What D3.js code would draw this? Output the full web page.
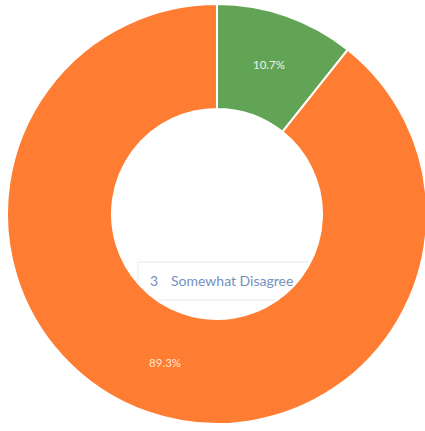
<!DOCTYPE html>
<html><head><meta charset="utf-8">
<script src="https://cdn.jsdelivr.net/npm/d3@7"></script>
<style>html,body{margin:0;padding:0;background:#fff;overflow:hidden}</style>
</head><body>
<svg id="c" width="425" height="431"></svg>
<script>
const categories = ["3 Somewhat Disagree", "Other"];
const values = [10.7, 89.3];
const labels = ["10.7%", "89.3%"];
const colors = ["#62a455", "#fe7d33"];
const tooltipIndex = "3";
const tooltipText = "Somewhat Disagree";

const svg = d3.select("#c");
const cx = 217, cy = 214, rOuter = 210, rInner = 105;

// tooltip box under donut
const tip = svg.append("g");
tip.append("rect").attr("x", 138).attr("y", 262).attr("width", 230).attr("height", 38)
  .attr("fill", "#fff").attr("stroke", "#e6e9ee").attr("stroke-width", 1);

const g = svg.append("g").attr("transform", `translate(${cx},${cy})`);
const pie = d3.pie().sort(null).value(d => d)(values);
const arc = d3.arc().innerRadius(rInner).outerRadius(rOuter);
const labelArc = d3.arc().innerRadius((rInner + rOuter) / 2).outerRadius((rInner + rOuter) / 2);

g.selectAll("path").data(pie).join("path")
  .attr("d", arc).attr("fill", (d, i) => colors[i])
  .attr("stroke", "#fff").attr("stroke-width", 2);

g.selectAll("text.lbl").data(pie).join("text").attr("class", "lbl")
  .attr("transform", d => `translate(${labelArc.centroid(d)})`)
  .attr("text-anchor", "middle").attr("dy", "0.35em")
  .attr("font-family", "Lato, sans-serif").attr("font-size", 11.5)
  .attr("fill", (d, i) => i === 0 ? "#eef4e8" : "#ffe6cc")
  .text((d, i) => labels[i]);

const tt = svg.append("text").attr("x", 150).attr("y", 286)
  .attr("font-family", "Lato, sans-serif").attr("font-size", 14).attr("fill", "#7390c0");
tt.append("tspan").text(tooltipIndex);
tt.append("tspan").attr("x", 171).text(tooltipText);
</script>
</body></html>
